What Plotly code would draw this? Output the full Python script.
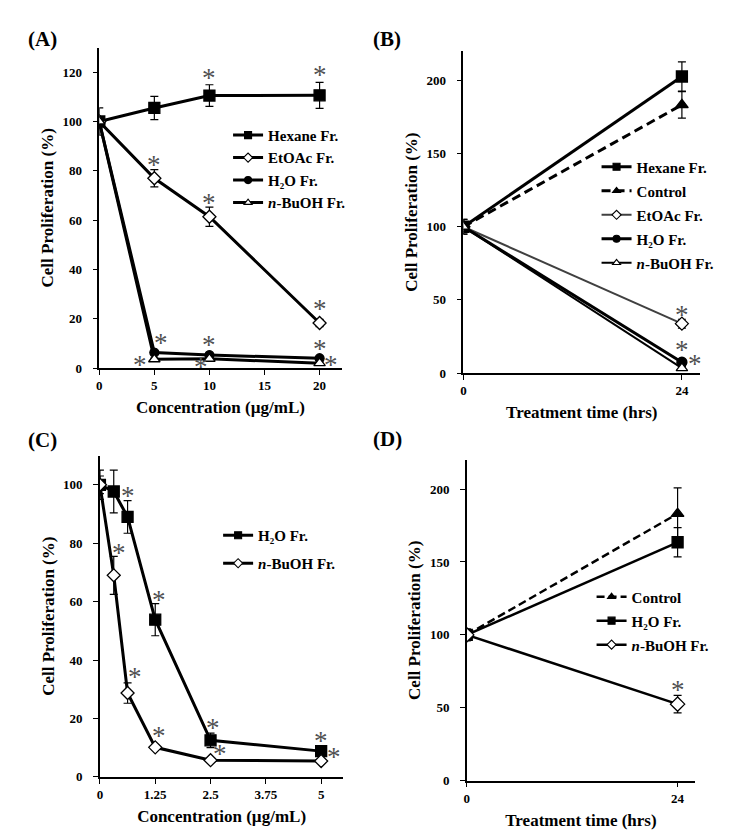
import plotly.graph_objects as go

FONT = "Liberation Serif, Times New Roman, serif"
BLACK = "#000000"
GRAY_LINE = "#404040"
STAR_COLOR = "#505050"

# ---------------- Panel A: concentration (ug/mL) ----------------
a_conc = [0, 5, 10, 20]
a_hex = [100, 105.5, 110.5, 110.6]
a_hex_err = [5.5, 4.7, 4.4, 5.3]
a_etoac = [100, 77.0, 61.4, 18.3]
a_etoac_err = [0, 3.5, 3.9, 1.5]
a_h2o = [100, 6.3, 5.3, 4.0]
a_h2o_err = [0, 0.8, 0.8, 0.8]
a_buoh = [100, 3.6, 3.8, 2.0]
a_buoh_err = [0, 0.5, 0.5, 0.5]
a_star_x = [10, 20, 5, 10, 20, 5.6, 10, 20, 3.7, 9.25, 21.05]
a_star_y = [118.8, 120.2, 83.4, 68.1, 25.0, 11.3, 10.7, 8.9, 2.4, 1.6, 2.4]

# ---------------- Panel B: treatment time (hrs) ----------------
b_time = [0, 24]
b_hex = [100, 202.7]
b_hex_err = [5, 10]
b_ctrl = [100, 183.3]
b_ctrl_err = [5, 9]
b_etoac = [100, 33.8]
b_etoac_err = [0, 3]
b_h2o = [100, 7.4]
b_h2o_err = [0, 1]
b_buoh = [100, 3.4]
b_buoh_err = [0, 1]
b_star_x = [24, 24, 25.4]
b_star_y = [41.7, 18.0, 8.6]

# ---------------- Panel C: concentration (ug/mL) ----------------
c_conc = [0, 0.3125, 0.625, 1.25, 2.5, 5]
c_h2o = [100, 97.7, 89.0, 53.8, 12.5, 8.8]
c_h2o_err = [5, 7.3, 5.6, 5.5, 2.5, 1.0]
c_buoh = [100, 69.0, 28.7, 10.1, 5.7, 5.4]
c_buoh_err = [3, 6.5, 3.5, 0.5, 0.5, 0.5]
c_star_x = [0.625, 1.336, 2.55, 5.0, 0.435, 0.796, 1.336, 2.72, 5.28]
c_star_y = [97.2, 61.7, 17.8, 13.3, 77.5, 35.2, 15.0, 8.8, 7.7]
c_tickvals = [0, 1.25, 2.5, 3.75, 5]
c_ticktext = ["0", "1.25", "2.5", "3.75", "5"]

# ---------------- Panel D: treatment time (hrs) ----------------
d_time = [0, 24]
d_ctrl = [100, 183.1]
d_ctrl_err = [4, 17.7]
d_h2o = [100, 163.5]
d_h2o_err = [4, 10]
d_buoh = [100, 52.5]
d_buoh_err = [3, 6]
d_star_x = [24]
d_star_y = [64.3]

fig = go.Figure()


def add(x, y, err, name, symbol, fill, xa, ya, legend, dash="solid",
        width=3, color=BLACK, size=10, leg_size=7):
    # data trace
    fig.add_trace(go.Scatter(
        x=x, y=y, name=name, mode="lines+markers", showlegend=False,
        xaxis=xa, yaxis=ya, legend=legend,
        line=dict(color=color, width=width, dash=dash),
        marker=dict(symbol=symbol, size=size, color=fill,
                    line=dict(color=BLACK, width=1.3)),
        error_y=dict(type="data", array=err, visible=True, color=BLACK,
                     thickness=1.2, width=4),
    ))
    # legend entry (smaller marker, like the reference key)
    fig.add_trace(go.Scatter(
        x=[None], y=[None], name=name, mode="lines+markers", showlegend=True,
        xaxis=xa, yaxis=ya, legend=legend, legendgroup=legend + name,
        line=dict(color=color, width=width, dash=dash),
        marker=dict(symbol=symbol, size=leg_size, color=fill,
                    line=dict(color=BLACK, width=1.1)),
    ))


H2O = "H₂O Fr."
BUOH = "<i>n</i>-BuOH Fr."

# A
add(a_conc, a_hex, a_hex_err, "Hexane Fr.", "square", BLACK, "x", "y", "legend", size=11)
add(a_conc, a_etoac, a_etoac_err, "EtOAc Fr.", "diamond", "white", "x", "y", "legend", size=10)
add(a_conc, a_h2o, a_h2o_err, H2O, "circle", BLACK, "x", "y", "legend", size=9)
add(a_conc, a_buoh, a_buoh_err, BUOH, "triangle-up", "white", "x", "y", "legend", size=10)

# B
add(b_time, b_hex, b_hex_err, "Hexane Fr.", "square", BLACK, "x2", "y2", "legend2", size=11)
add(b_time, b_ctrl, b_ctrl_err, "Control", "triangle-up", BLACK, "x2", "y2", "legend2",
    dash="9px,5px", size=11)
add(b_time, b_etoac, b_etoac_err, "EtOAc Fr.", "diamond", "white", "x2", "y2", "legend2",
    width=2, color=GRAY_LINE, size=10)
add(b_time, b_h2o, b_h2o_err, H2O, "circle", BLACK, "x2", "y2", "legend2", size=10)
add(b_time, b_buoh, b_buoh_err, BUOH, "triangle-up", "white", "x2", "y2", "legend2",
    width=2, size=10)

# C
add(c_conc, c_h2o, c_h2o_err, H2O, "square", BLACK, "x3", "y3", "legend3", size=11)
add(c_conc, c_buoh, c_buoh_err, BUOH, "diamond", "white", "x3", "y3", "legend3", size=10)

# D
add(d_time, d_ctrl, d_ctrl_err, "Control", "triangle-up", BLACK, "x4", "y4", "legend4",
    dash="8px,4px", width=2.5, size=11)
add(d_time, d_h2o, d_h2o_err, H2O, "square", BLACK, "x4", "y4", "legend4", width=2.5, size=11)
add(d_time, d_buoh, d_buoh_err, BUOH, "diamond", "white", "x4", "y4", "legend4",
    width=2.5, size=11)

# significance asterisks
for sx, sy, xr, yr in [(a_star_x, a_star_y, "x", "y"), (b_star_x, b_star_y, "x2", "y2"),
                       (c_star_x, c_star_y, "x3", "y3"), (d_star_x, d_star_y, "x4", "y4")]:
    for xv, yv in zip(sx, sy):
        fig.add_annotation(x=xv, y=yv, xref=xr, yref=yr, text="*", showarrow=False,
                           yshift=-3, height=22, valign="middle",
                           font=dict(family=FONT, size=27, color=STAR_COLOR))

# panel letters
for label, px, py in [("(A)", 23, 39), ("(B)", 370, 39), ("(C)", 23, 444), ("(D)", 370, 443)]:
    fig.add_annotation(x=px / 729, y=1 - py / 836, xref="paper", yref="paper",
                       xanchor="left", yanchor="middle", text="<b>" + label + "</b>",
                       showarrow=False, font=dict(family=FONT, size=21, color=BLACK))

tickfont = dict(family=FONT, size=13, color=BLACK, weight="bold")
titlefont = dict(family=FONT, size=17, color=BLACK, weight="bold")


def xaxis_common():
    return dict(showline=True, linecolor=BLACK, linewidth=1.5, ticks="outside",
                ticklen=5, tickwidth=1.3, tickcolor=BLACK, showgrid=False,
                zeroline=False, tickfont=tickfont, fixedrange=True)


def yaxis_common():
    d = xaxis_common()
    d["ticklabelstandoff"] = 8
    return d


conc_title = "Concentration (µg/mL)"
time_title = "Treatment time (hrs)"
ytitle = "Cell Proliferation (%)"

fig.update_layout(
    width=729, height=836, margin=dict(l=0, r=0, t=0, b=0),
    paper_bgcolor="white", plot_bgcolor="white", showlegend=True,
    xaxis=dict(domain=[0.1326, 0.4664], anchor="y", range=[0, 22], tickvals=[0, 5, 10, 15, 20],
               title=dict(text=conc_title, font=titlefont, standoff=9), **xaxis_common()),
    yaxis=dict(domain=[0.5554, 0.9426], anchor="x", range=[0, 130], dtick=20,
               title=dict(text=ytitle, font=titlefont, standoff=4), **yaxis_common()),
    xaxis2=dict(domain=[0.6342, 0.9602], anchor="y2", range=[0, 26], tickvals=[0, 24],
                title=dict(text=time_title, font=titlefont, standoff=9), **xaxis_common()),
    yaxis2=dict(domain=[0.5494, 0.9382], anchor="x2", range=[0, 220], dtick=50,
                title=dict(text=ytitle, font=titlefont, standoff=5), **yaxis_common()),
    xaxis3=dict(domain=[0.1335, 0.4687], anchor="y3", range=[0, 5.5], tickvals=c_tickvals,
                ticktext=c_ticktext,
                title=dict(text=conc_title, font=titlefont, standoff=9), **xaxis_common()),
    yaxis3=dict(domain=[0.0618, 0.4498], anchor="x3", range=[0, 110], dtick=20,
                title=dict(text=ytitle, font=titlefont, standoff=4), **yaxis_common()),
    xaxis4=dict(domain=[0.6388, 0.9534], anchor="y4", range=[0, 26], tickvals=[0, 24],
                title=dict(text=time_title, font=titlefont, standoff=9), **xaxis_common()),
    yaxis4=dict(domain=[0.0571, 0.4446], anchor="x4", range=[0, 220], dtick=50,
                title=dict(text=ytitle, font=titlefont, standoff=5), **yaxis_common()),
)

legfont = dict(family=FONT, size=15, color=BLACK, weight="bold")


def leg(px, py, gap):
    return dict(x=px / 729, y=1 - py / 836, xanchor="left", yanchor="top",
                bgcolor="rgba(0,0,0,0)", font=legfont, tracegroupgap=gap,
                itemsizing="trace", itemwidth=30, traceorder="grouped")


fig.update_layout(
    legend=leg(226, 120, 0),
    legend2=leg(596, 152, 1.5),
    legend3=leg(216, 524, 5.5),
    legend4=leg(591, 586, 1.5),
)

fig.write_html("out.html", config={"displayModeBar": False},
               post_script="document.body.style.margin='0';")
